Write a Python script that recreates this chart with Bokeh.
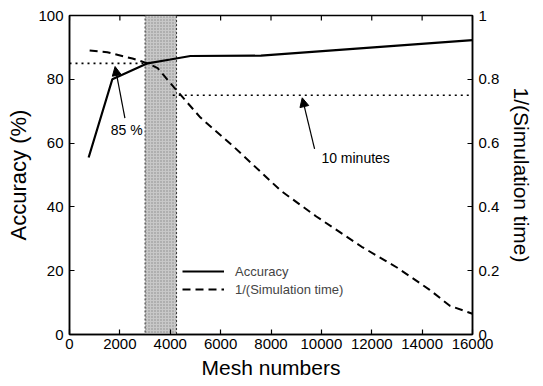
from bokeh.plotting import figure
from bokeh.models import (Range1d, LinearAxis, FixedTicker, Legend, LegendItem,
                          Arrow, NormalHead, CustomJSTickFormatter)
from bokeh.core.properties import value
from bokeh.embed import file_html
from bokeh.resources import INLINE

# ---- data ----
mesh_acc = [760, 1700, 3100, 4000, 4800, 7600, 16000]
accuracy = [55.5, 80.0, 85.0, 86.2, 87.3, 87.4, 92.3]

mesh_time = [800, 1500, 2500, 3100, 3500, 4200, 5200, 6500, 8400, 9800,
             11600, 13000, 14300, 15100, 16000]
inv_time = [0.89, 0.885, 0.865, 0.85, 0.835, 0.77, 0.68, 0.59, 0.45, 0.37,
            0.275, 0.21, 0.14, 0.09, 0.065]

x_ticks = [0, 2000, 4000, 6000, 8000, 10000, 12000, 14000, 16000]
acc_ticks = [0, 20, 40, 60, 80, 100]
time_ticks = [0, 0.2, 0.4, 0.6, 0.8, 1.0]

band_left = [3000]
band_right = [4250]

acc_line_x = [0, 3000]
acc_line_y = [85, 85]
time_line_x = [4100, 16000]
time_line_y = [0.75, 0.75]

note_x = [1640, 10000]
note_y = [64, 55.3]
note_text = ["85 %", "10 minutes"]
arrow_x0 = [2200, 9730]
arrow_y0 = [67.8, 58.2]
arrow_x1 = [1810, 9240]
arrow_y1 = [84.0, 74.2]

FONT = "Liberation Sans"
Y_TOP = 100
TOP_TICK_LEN = 1.6  # in accuracy units (~5 px)

p = figure(width=543, height=386, output_backend="svg", toolbar_location=None,
           x_range=Range1d(0, 16000), y_range=Range1d(0, Y_TOP),
           min_border_left=69, min_border_right=71, min_border_top=15,
           min_border_bottom=52)
p.extra_y_ranges = {"t": Range1d(0, 1)}
p.xgrid.visible = False
p.ygrid.visible = False
p.outline_line_color = "black"
p.outline_line_width = 1.5
p.background_fill_color = "white"
p.border_fill_color = "white"


def style_axis(ax, size="15px"):
    ax.axis_line_color = "black"
    ax.axis_line_width = 1.5
    ax.major_tick_in = 5
    ax.major_tick_out = 0
    ax.major_tick_line_width = 1.2
    ax.minor_tick_line_color = None
    ax.major_label_text_font = FONT
    ax.major_label_text_font_size = size
    ax.major_label_text_color = "black"
    ax.axis_label_text_font = FONT
    ax.axis_label_text_font_style = "normal"
    ax.axis_label_text_color = "black"


xa = p.xaxis[0]
xa.ticker = FixedTicker(ticks=x_ticks)
style_axis(xa)
xa.axis_label = "Mesh numbers"
xa.axis_label_text_font_size = "21px"
xa.major_label_standoff = 4
xa.axis_label_standoff = 4

ya = p.yaxis[0]
ya.ticker = FixedTicker(ticks=acc_ticks)
style_axis(ya)
ya.axis_label = "Accuracy (%)"
ya.axis_label_text_font_size = "22px"
ya.major_label_standoff = 6
ya.axis_label_standoff = 4

ra = LinearAxis(y_range_name="t", ticker=FixedTicker(ticks=time_ticks),
                formatter=CustomJSTickFormatter(code="return (Math.round(tick*10)/10).toString();"))
style_axis(ra)
ra.axis_label = "1/(Simulation time)"
ra.axis_label_text_font_size = "21px"
ra.major_label_standoff = 6
ra.axis_label_standoff = 8
p.add_layout(ra, "right")

# inward ticks along the top frame edge
p.segment(x0=x_ticks, y0=[Y_TOP] * len(x_ticks), x1=x_ticks,
          y1=[Y_TOP - TOP_TICK_LEN] * len(x_ticks), line_color="black", line_width=1.2)

# shaded band
p.quad(left=band_left, right=band_right, bottom=[0], top=[Y_TOP],
       fill_color="#c8c8c8", hatch_pattern=".", hatch_color="#8a8a8a",
       hatch_scale=3, line_color="#333333", line_dash="2 2", line_width=1)

# threshold dotted lines
p.line(acc_line_x, acc_line_y, line_color="black", line_dash="2 4", line_width=1.6)
p.line(time_line_x, time_line_y, y_range_name="t", line_color="black",
       line_dash="2 4", line_width=1.6)

r_acc = p.line(mesh_acc, accuracy, line_color="black", line_width=2.2)
r_time = p.line(mesh_time, inv_time, y_range_name="t", line_color="black",
                line_width=2, line_dash="8 5")

for i in range(len(arrow_x0)):
    p.add_layout(Arrow(end=NormalHead(size=9, fill_color="black", line_color="black"),
                       x_start=arrow_x0[i], y_start=arrow_y0[i],
                       x_end=arrow_x1[i], y_end=arrow_y1[i],
                       line_color="black", line_width=1.2))

p.text(x=note_x, y=note_y, text=note_text, text_font=value(FONT),
       text_font_size="14px", text_baseline="middle", text_align="left",
       text_color="black")

legend = Legend(items=[LegendItem(label="Accuracy", renderers=[r_acc]),
                       LegendItem(label="1/(Simulation time)", renderers=[r_time])],
                location=(113, 37), padding=0, margin=0, spacing=2,
                glyph_width=42, glyph_height=16, label_height=16,
                label_standoff=11, label_text_font=FONT,
                label_text_font_size="13px", border_line_color=None,
                background_fill_alpha=0)
p.add_layout(legend, "center")

open("out.html", "w").write(file_html(p, INLINE))
